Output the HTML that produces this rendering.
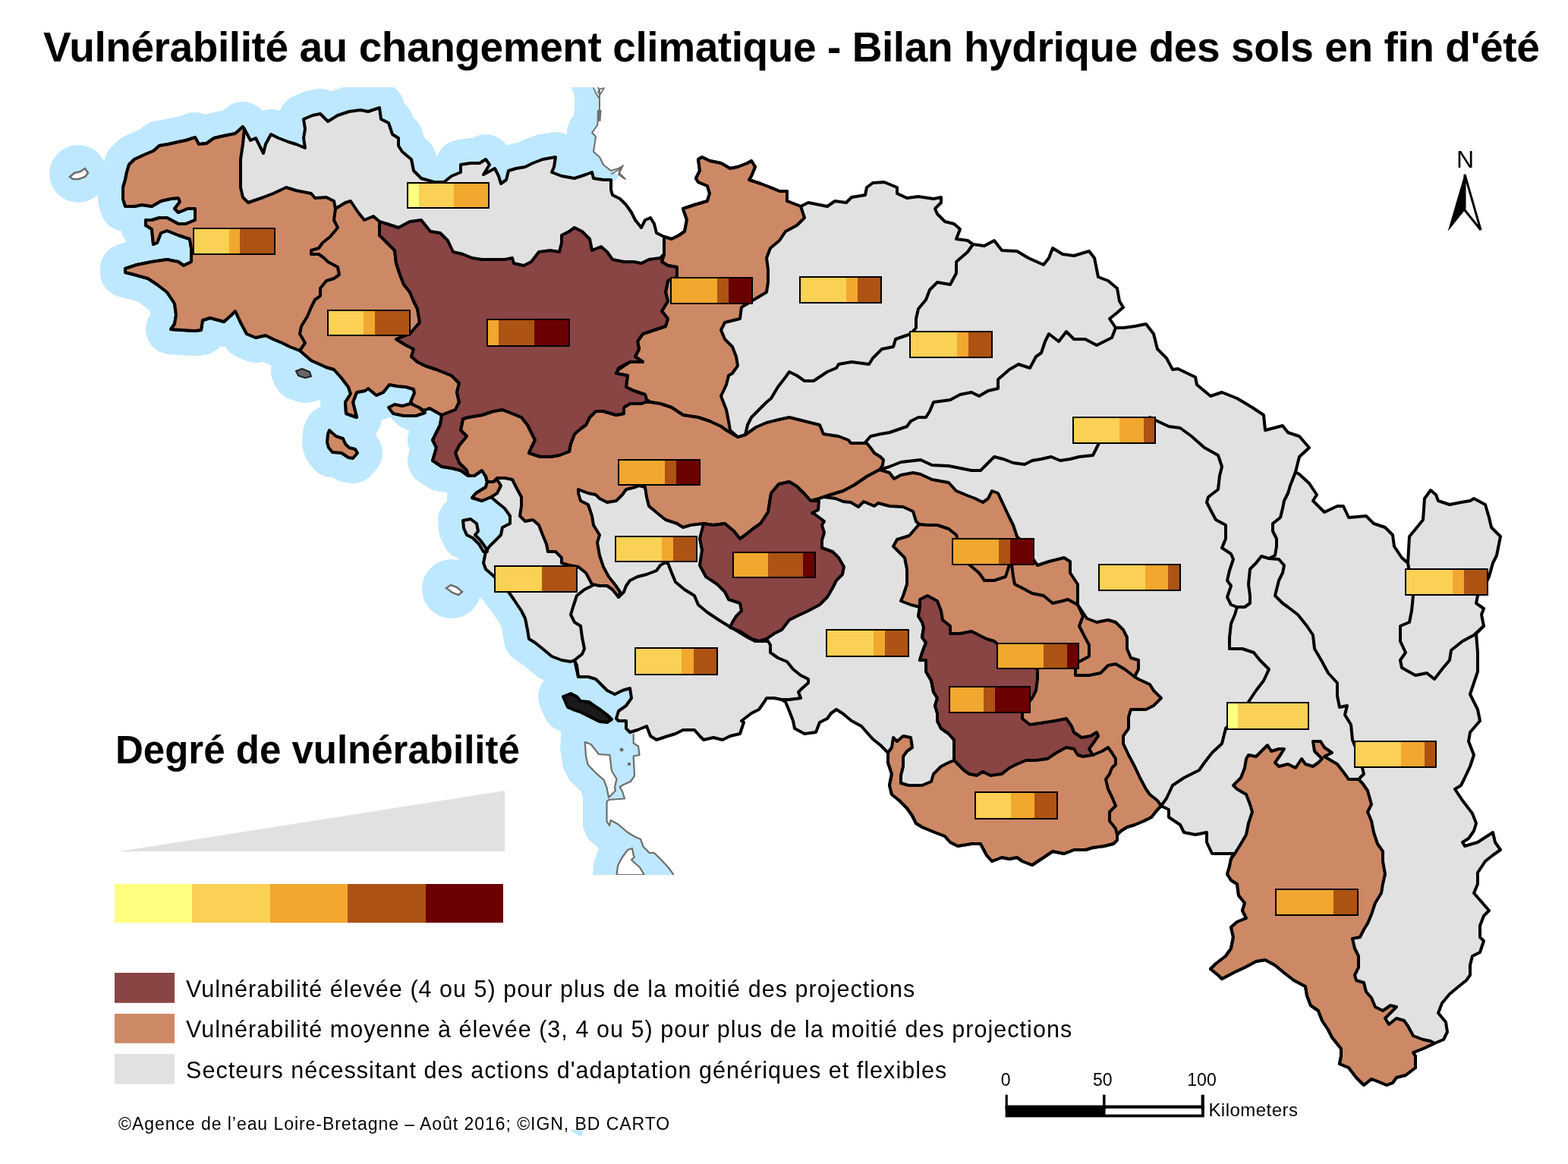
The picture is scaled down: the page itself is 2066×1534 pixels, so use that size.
<!DOCTYPE html>
<html lang="fr"><head><meta charset="utf-8"><title>Vulnérabilité au changement climatique - Bilan hydrique des sols en fin d'été</title>
<style>
html,body{margin:0;padding:0;background:#fff;}
body{width:2066px;height:1534px;position:relative;overflow:hidden;font-family:"Liberation Sans",Arial,sans-serif;color:#000;}
.t{position:absolute;white-space:nowrap;line-height:1;}
#title{left:57px;top:35.2px;font-size:55px;font-weight:bold;letter-spacing:-0.42px;}
#lt{left:152px;top:963.2px;font-size:51px;font-weight:bold;}
.li{font-size:30.5px;left:245px;letter-spacing:1.04px;}
#foot{left:156px;top:1470px;font-size:23px;letter-spacing:0.95px;}
.sc{font-size:23px;}
#north{left:1919px;top:193.8px;font-size:32px;}
</style></head><body>
<svg width="2066" height="1534" viewBox="0 0 2066 1534" style="position:absolute;left:0;top:0">
<defs><clipPath id="hc"><polygon points="0,115 782,115 790,120 790,145 787,165 780,175 785,180 782,200 790,207 795,217 805,225 815,232 812,237 805,240 805,250 807,257 817,262 825,270 832,280 837,290 845,300 870,330 900,600 850,900 852,957 840,962 834.7,968 834.7,979.5 841,983.5 842.5,995 834.7,996.5 836,1022.6 830.8,1030 821.7,1034 816.5,1037 800,1060 800,1153 0,1153"/></clipPath><clipPath id="rc"><rect x="0" y="115" width="2066" height="1038"/></clipPath></defs>
<g clip-path="url(#hc)">
<path d="M852,957 L840,962 L830,965 L825,960 L825,950 L815,950 L812,947 L815,937 L825,930 L832,920 L830,907 L820,910 L810,915 L800,910 L795,905 L785,895 L775,892 L762,892 L757,870 L752,872 L740,870 L727,865 L715,855 L705,847 L697,842 L695,830 L692,815 L687,805 L677,790 L670,780 L660,768 L648,757 L640,750 L637,742 L640,727 L645,720 L650,715 L660,705 L662,695 L672,690 L672,680 L665,670 L655,662 L647,655 L635,660 L622,656 L627,650 L640,642 L642,635 L640,628 L635,620 L625,627 L617,627 L607,620 L595,617 L582,615 L570,607 L575,590 L570,580 L580,560 L582,547 L566,538 L558,541 L552,537 L546,535 L541,530 L546,518 L545,513 L535,510 L524,509 L513,507 L505,517 L496,521 L485,512 L481,515 L470,517 L465,530 L470,550 L456,545 L455,530 L462,519 L459,510 L449,497 L440,487 L430,484 L410,475 L395,462 L382,457 L372,452 L360,447 L350,442 L337,445 L325,440 L317,425 L310,410 L305,415 L295,424 L277,419 L267,422 L265,435 L257,436 L240,435 L225,434 L230,427 L232,415 L230,400 L220,385 L207,375 L195,367 L177,362 L165,359 L165,354 L180,349 L200,345 L220,342 L235,345 L242,350 L252,345 L252,327 L250,315 L235,310 L220,304 L212,307 L207,320 L202,322 L200,302 L192,297 L192,290 L200,290 L210,287 L220,287 L235,295 L245,295 L257,290 L257,275 L247,275 L235,280 L230,275 L237,266 L235,261 L225,262 L212,265 L200,272 L187,270 L177,272 L165,272 L162,262 L162,247 L165,237 L167,227 L170,217 L177,210 L190,204 L202,199 L210,192 L222,190 L235,187 L245,185 L257,181 L262,190 L272,189 L282,182 L295,179 L310,176 L320,167 L322,170 L330,185 L337,182 L342,192 L347,202 L350,190 L357,177 L367,182 L380,187 L390,190 L402,195 L400,182 L402,170 L400,157 L412,152 L422,150 L432,160 L445,152 L460,147 L475,145 L485,147 L500,142 L502,157 L512,162 L517,177 L525,182 L525,192 L530,200 L542,210 L545,225 L555,235 L572,240 L585,240 L595,232 L607,227 L607,217 L620,215 L632,215 L640,210 L645,217 L637,230 L652,222 L657,232 L660,242 L667,237 L670,225 L680,222 L692,220 L702,215 L715,210 L732,207 L730,220 L727,227 L740,232 L757,235 L772,230 L780,227 L782,235 L795,237 L805,237" fill="none" stroke="#BEE8FF" stroke-width="66" stroke-linejoin="round" stroke-linecap="round"/>
<path d="M782,100 L790,120 L790,145 L787,165 L780,175 L785,180 L782,200 L790,207 L795,217 L805,225 L815,222 L818,220 L815,230 L822,235" fill="none" stroke="#BEE8FF" stroke-width="66" stroke-linejoin="round" stroke-linecap="round"/>
<polygon points="742,918 752,914 760,918 765,924 776,925 783,930 792,936 800,942 806,948 800,952 790,951 780,946 772,942 764,938 755,935 748,932" fill="#BEE8FF" stroke="#BEE8FF" stroke-width="66" stroke-linejoin="round"/>
<polygon points="432,572 434,567 437,570 443,575 452,578 455,585 460,590 468,592 471,597 465,604 459,603 450,597 438,596 433,590 431,583" fill="#BEE8FF" stroke="#BEE8FF" stroke-width="66" stroke-linejoin="round"/>
<polygon points="610,686 620,684 628,690 630,700 626,705 633,712 640,722 642,727 637,727 631,717 623,709 615,705 611,696" fill="#BEE8FF" stroke="#BEE8FF" stroke-width="66" stroke-linejoin="round"/>
<polygon points="390,489 398,486 408,490 410,496 402,498 393,495" fill="#BEE8FF" stroke="#BEE8FF" stroke-width="66" stroke-linejoin="round"/>
<circle cx="103" cy="229" r="38" fill="#BEE8FF"/>
<circle cx="595" cy="776" r="39" fill="#BEE8FF"/>
</g>
<polygon points="725,940 733,955 739.5,964 738,986 742,1012 750,1028 765.6,1043 768,1051 768,1090 775,1106 789,1118 782.6,1136 781,1153 887,1153 880,1142.5 870,1132 862,1124 855.6,1124 847.7,1116 844,1106 837,1103 827,1097 814,1086 804.7,1081 803,1088 799.5,1082.5 799.5,1056.5 802,1054 823,1052.5 820,1043 816.5,1037 821.7,1034 830.8,1030 836,1022.6 834.7,996.5 842.5,995 841,983.5 834.7,979.5 834.7,968 830,955 780,940" fill="#BEE8FF" stroke="none" stroke-width="0" stroke-linejoin="round" />
<g clip-path="url(#rc)">
<polyline points="782,100 790,120 790,145 787,165 780,175 785,180 782,200 790,207 795,217 805,225 815,222 818,220 815,230 822,235" fill="none" stroke="#6E6E6E" stroke-width="2" stroke-linejoin="round" stroke-linecap="round" />
<polyline points="782,116 785,123 789,129 791,124 795,118 796,116 791,117 788,122" fill="none" stroke="#6E6E6E" stroke-width="1.6" stroke-linejoin="round" stroke-linecap="round" />
<polygon points="787,145 792.6,145 791.5,160 786.5,159" fill="#6E6E6E"/>
<polyline points="806,229 815,224 821,218 816,228 824,236" fill="none" stroke="#6E6E6E" stroke-width="1.8" stroke-linejoin="round" stroke-linecap="round" />
<polyline points="834.7,968 834.7,979.5 841,983.5 842.5,995 834.7,996.5 836,1022.6 830.8,1030 821.7,1034 816.5,1037 820,1043 823,1052.5 802,1054 799.5,1056.5 799.5,1082.5 803,1088 804.7,1081 814,1086 827,1097 837,1103 844,1106 847.7,1116 855.6,1124 862,1124 870,1132 880,1142.5 887,1152" fill="none" stroke="#6E6E6E" stroke-width="2.2" stroke-linejoin="round" stroke-linecap="round" />
<polygon points="812.5,1153 814,1141 819,1131 827,1120 833,1118 834.7,1127 836,1129.5 832,1133 836,1137 842.5,1142.5 849,1153" fill="#fff" stroke="#6E6E6E" stroke-width="2.2" stroke-linejoin="round" />
<polygon points="770.8,978 778.7,981 789,994 803.4,995 804.7,1005.6 806,1016 812.5,1026.5 810,1038 811,1042 802,1051 799.5,1038 795.6,1027.8 785,1018.6 774.7,1008 772,996.5" fill="#fff" stroke="#6E6E6E" stroke-width="2.2" stroke-linejoin="round" />
<circle cx="819" cy="988" r="2.5" fill="#6E6E6E"/><circle cx="829" cy="1007" r="2.2" fill="#6E6E6E"/>
</g>
<polygon points="92,233 98,228 106,226 112,222 116,228 112,233 104,236 96,236" fill="#fff" stroke="#6E6E6E" stroke-width="2.5"/>
<polygon points="588,775 594,771 602,774 609,780 604,784 596,781" fill="#fff" stroke="#6E6E6E" stroke-width="2.5"/>
<polygon points="322,170 330,185 337,182 342,192 347,202 350,190 357,177 367,182 380,187 390,190 402,195 400,182 402,170 400,157 412,152 422,150 432,160 445,152 460,147 475,145 485,147 500,142 502,157 512,162 517,177 525,182 525,192 530,200 542,210 545,225 555,235 572,240 585,240 595,232 607,227 607,217 620,215 632,215 640,210 645,217 637,230 652,222 657,232 660,242 667,237 670,225 680,222 692,220 702,215 715,210 732,207 730,220 727,227 740,232 757,235 772,230 780,227 782,235 795,237 805,237 805,250 807,257 817,262 825,270 832,280 837,290 845,300 850,290 857,287 862,295 865,307 875,312 885,315 895,310 902,305 905,290 900,275 915,270 932,265 935,255 932,245 920,240 917,235 922,225 920,210 925,207 935,212 950,215 962,222 972,220 985,215 990,212 995,220 990,232 987,237 1002,242 1015,247 1027,252 1037,252 1037,265 1050,270 1055,272 1065,267 1090,272 1100,265 1115,267 1122,260 1140,257 1142,247 1150,241 1165,240 1182,247 1182,255 1195,261 1210,259 1230,262 1240,260 1240,267 1232,275 1235,282 1245,292 1257,295 1265,302 1260,315 1275,317 1282,322 1297,324 1310,317 1320,330 1340,331 1355,340 1375,349 1382,340 1387,327 1400,335 1415,337 1435,331 1442,340 1447,365 1460,370 1472,380 1475,397 1480,405 1472,412 1462,420 1470,432 1480,432 1495,430 1510,427 1520,440 1525,460 1537,472 1545,487 1552,486 1575,497 1577,507 1595,522 1610,517 1630,525 1650,537 1665,547 1667,567 1690,561 1697,570 1712,575 1725,590 1712,602 1707,622 1712,625 1725,637 1735,652 1730,660 1745,675 1762,667 1770,667 1777,682 1800,680 1810,690 1825,695 1835,705 1837,720 1847,735 1855,742 1857,707 1867,695 1875,685 1877,657 1885,646 1892,652 1895,660 1910,665 1925,662 1937,660 1942,657 1957,665 1962,682 1965,695 1977,707 1972,732 1967,742 1962,760 1955,775 1947,785 1945,795 1955,802 1952,810 1955,825 1945,835 1947,860 1947,885 1942,900 1937,915 1947,935 1950,950 1937,965 1935,977 1942,995 1937,1010 1930,1025 1925,1035 1917,1040 1927,1055 1940,1072 1945,1085 1942,1095 1935,1105 1927,1110 1930,1115 1947,1110 1967,1097 1970,1110 1977,1120 1967,1127 1957,1135 1947,1150 1947,1165 1942,1177 1962,1200 1955,1207 1950,1220 1950,1235 1955,1240 1950,1255 1940,1260 1937,1272 1937,1285 1932,1292 1922,1300 1910,1310 1900,1322 1895,1335 1905,1347 1907,1360 1902,1370 1890,1375 1875,1382 1862,1387 1865,1392 1865,1407 1852,1417 1840,1420 1835,1427 1827,1430 1815,1425 1807,1422 1797,1430 1787,1420 1777,1407 1765,1402 1767,1392 1767,1382 1755,1367 1750,1357 1742,1345 1737,1332 1727,1325 1722,1312 1720,1300 1705,1292 1692,1282 1680,1272 1667,1265 1655,1267 1640,1275 1625,1282 1610,1290 1605,1285 1595,1277 1602,1270 1615,1260 1622,1250 1625,1235 1622,1222 1630,1215 1642,1210 1637,1200 1640,1190 1632,1180 1630,1165 1622,1160 1617,1152 1620,1142 1622,1132 1625,1125 1610,1125 1597,1125 1590,1110 1590,1097 1575,1100 1560,1097 1555,1087 1540,1077 1540,1067 1530,1062 1525,1067 1517,1077 1507,1082 1495,1087 1485,1090 1477,1095 1472,1100 1472,1107 1467,1112 1455,1115 1440,1117 1430,1120 1415,1120 1402,1125 1387,1122 1375,1130 1360,1140 1347,1135 1340,1130 1330,1132 1320,1130 1307,1135 1300,1127 1292,1112 1280,1112 1262,1115 1252,1110 1245,1102 1232,1097 1215,1090 1207,1085 1202,1075 1195,1065 1185,1055 1175,1047 1172,1035 1175,1020 1170,1005 1170,992 1160,982 1150,974 1142,965 1135,957 1122,950 1110,940 1102,935 1095,940 1090,947 1080,952 1075,965 1060,967 1047,960 1045,950 1040,937 1035,925 1030,922 1020,920 1010,920 1007,925 1000,935 990,940 977,950 980,952 975,967 962,970 952,975 940,972 927,975 922,970 915,962 900,962 890,967 880,970 865,975 857,970 852,957 840,962 830,965 825,960 825,950 815,950 812,947 815,937 825,930 832,920 830,907 820,910 810,915 800,910 795,905 785,895 775,892 762,892 757,870 752,872 740,870 727,865 715,855 705,847 697,842 695,830 692,815 687,805 677,790 670,780 660,768 648,757 640,750 637,742 640,727 645,720 650,715 660,705 662,695 672,690 672,680 665,670 655,662 647,655 635,660 622,656 627,650 640,642 642,635 640,628 635,620 625,627 617,627 607,620 595,617 582,615 570,607 575,590 570,580 580,560 582,547 566,538 558,541 552,537 546,535 541,530 546,518 545,513 535,510 524,509 513,507 505,517 496,521 485,512 481,515 470,517 465,530 470,550 456,545 455,530 462,519 459,510 449,497 440,487 430,484 410,475 395,462 382,457 372,452 360,447 350,442 337,445 325,440 317,425 310,410 305,415 295,424 277,419 267,422 265,435 257,436 240,435 225,434 230,427 232,415 230,400 220,385 207,375 195,367 177,362 165,359 165,354 180,349 200,345 220,342 235,345 242,350 252,345 252,327 250,315 235,310 220,304 212,307 207,320 202,322 200,302 192,297 192,290 200,290 210,287 220,287 235,295 245,295 257,290 257,275 247,275 235,280 230,275 237,266 235,261 225,262 212,265 200,272 187,270 177,272 165,272 162,262 162,247 165,237 167,227 170,217 177,210 190,204 202,199 210,192 222,190 235,187 245,185 257,181 262,190 272,189 282,182 295,179 310,176 320,167" fill="#E1E1E1" stroke="#000" stroke-width="4" stroke-linejoin="round" />
<polygon points="322,170 320,190 317,210 317,227 317,247 320,260 327,267 347,260 360,255 377,247 390,251 410,255 415,261 430,260 440,265 442,275 455,267 462,265 472,280 480,290 492,285 500,292 500,310 510,320 520,330 522,347 527,362 532,375 540,385 545,397 550,407 553,425 540,440 522,447 535,455 545,460 542,470 550,477 560,482 575,487 595,495 605,505 602,517 605,530 600,540 587,545 582,547 566,538 558,541 552,537 546,535 541,530 546,518 545,513 535,510 524,509 513,507 505,517 496,521 485,512 481,515 470,517 465,530 470,550 456,545 455,530 462,519 459,510 449,497 440,487 430,484 410,475 395,462 382,457 372,452 360,447 350,442 337,445 325,440 317,425 310,410 305,415 295,424 277,419 267,422 265,435 257,436 240,435 225,434 230,427 232,415 230,400 220,385 207,375 195,367 177,362 165,359 165,354 180,349 200,345 220,342 235,345 242,350 252,345 252,327 250,315 235,310 220,304 212,307 207,320 202,322 200,302 192,297 192,290 200,290 210,287 220,287 235,295 245,295 257,290 257,275 247,275 235,280 230,275 237,266 235,261 225,262 212,265 200,272 187,270 177,272 165,272 162,262 162,247 165,237 167,227 170,217 177,210 190,204 202,199 210,192 222,190 235,187 245,185 257,181 262,190 272,189 282,182 295,179 310,176 320,167" fill="#CD8966" stroke="#000" stroke-width="4" stroke-linejoin="round" />
<polygon points="875,312 885,315 895,310 902,305 905,290 900,275 915,270 932,265 935,255 932,245 920,240 917,235 922,225 920,210 925,207 935,212 950,215 962,222 972,220 985,215 990,212 995,220 990,232 987,237 1002,242 1015,247 1027,252 1037,252 1037,265 1050,270 1055,272 1060,287 1050,297 1035,305 1027,317 1015,327 1010,340 1012,355 1012,372 1010,385 990,397 977,405 975,420 955,425 950,435 955,447 965,457 970,470 972,482 965,492 960,495 957,507 950,522 957,540 960,555 962,567 972,576 967,572 957,567 950,562 935,555 920,550 900,547 885,537 870,532 857,530 852,527 850,520 835,515 825,510 827,495 812,492 815,487 830,477 847,477 837,470 842,460 840,450 847,440 862,435 877,430 880,420 872,410 880,397 877,385 880,370 892,365 892,352 880,350 872,345 875,335 875,325" fill="#CD8966" stroke="#000" stroke-width="4" stroke-linejoin="round" />
<polygon points="857,530 870,532 885,537 900,547 920,550 935,555 950,562 957,567 972,576 982,573 996,563 1010,557 1026,553 1040,550 1060,555 1080,560 1085,572 1105,575 1118,580 1121,584 1142,584 1147,590 1152,597 1160,602 1164,606 1163,613 1159,619 1142,628 1126,639 1111,647 1091,653 1079,657 1068,660 1060,651 1050,641 1040,635 1026,638 1016,650 1012,675 1002,690 992,697 982,705 975,710 967,700 955,690 940,692 927,690 910,692 900,695 892,690 877,685 867,677 855,667 852,655 850,642 842,640 837,642 825,645 820,652 812,660 800,662 790,657 785,652 775,650 762,645 762,650 765,660 775,665 780,680 782,692 790,705 787,715 790,732 795,747 802,760 810,770 817,780 815,787 807,777 800,772 790,772 780,770 772,755 762,747 750,745 740,742 740,735 732,727 722,727 720,717 715,705 710,692 702,685 692,687 685,680 687,667 687,655 680,642 675,632 665,630 655,630 650,635 642,635 640,628 635,620 625,627 617,627 615,620 605,610 600,597 605,587 615,575 607,567 610,552 617,550 635,547 650,542 662,540 675,545 687,550 695,560 700,570 705,580 700,590 697,597 712,602 725,602 737,600 750,595 752,585 757,572 765,565 772,560 777,550 785,542 795,542 812,547 822,545 822,537 830,532 845,532 850,530" fill="#CD8966" stroke="#000" stroke-width="4" stroke-linejoin="round" />
<polygon points="640,628 642,635 640,642 627,650 622,656 635,660 647,655 655,650 660,640 655,632 650,635 642,635" fill="#CD8966" stroke="#000" stroke-width="4" stroke-linejoin="round" />
<polygon points="512,537 520,533 530,535 541,532 552,537 560,544 548,548 532,548 518,545" fill="#CD8966" stroke="#000" stroke-width="4" stroke-linejoin="round" />
<polygon points="432,572 434,567 437,570 443,575 452,578 455,585 460,590 468,592 471,597 465,604 459,603 450,597 438,596 433,590 431,583" fill="#CD8966" stroke="#000" stroke-width="4" stroke-linejoin="round" />
<polygon points="610,686 620,684 628,690 630,700 626,705 633,712 640,722 642,727 637,727 631,717 623,709 615,705 611,696" fill="#ddd" stroke="#000" stroke-width="4" stroke-linejoin="round" />
<polygon points="390,489 398,486 408,490 410,496 402,498 393,495" fill="#666" stroke="#222" stroke-width="2" stroke-linejoin="round" />
<polygon points="742,918 752,914 760,918 765,924 776,925 783,930 792,936 800,942 806,948 800,952 790,951 780,946 772,942 764,938 755,935 748,932" fill="#1a1a1a" stroke="#000" stroke-width="4" stroke-linejoin="round" />
<polygon points="1159,619 1172,623 1178,631 1187,626 1203,623 1213,625 1228,632 1250,636 1260,647 1272,652 1285,657 1295,662 1302,657 1307,647 1315,650 1322,665 1330,682 1335,692 1340,707 1345,712 1362,738 1367,745 1382,740 1402,735 1410,740 1410,755 1420,770 1420,785 1420,797 1432,815 1445,820 1460,817 1470,820 1480,830 1485,840 1485,855 1490,867 1500,870 1500,882 1495,892 1500,895 1515,902 1520,910 1530,920 1520,930 1510,935 1490,935 1487,945 1487,960 1480,970 1480,980 1487,995 1495,1010 1502,1025 1510,1040 1515,1047 1525,1055 1530,1062 1525,1067 1517,1077 1507,1082 1495,1087 1485,1090 1477,1095 1472,1100 1472,1107 1467,1112 1455,1115 1440,1117 1430,1120 1415,1120 1402,1125 1387,1122 1375,1130 1360,1140 1347,1135 1340,1130 1330,1132 1320,1130 1307,1135 1300,1127 1292,1112 1280,1112 1262,1115 1252,1110 1245,1102 1232,1097 1215,1090 1207,1085 1202,1075 1195,1065 1185,1055 1175,1047 1172,1035 1175,1020 1170,1005 1170,992 1175,985 1177,972 1182,977 1190,970 1200,972 1202,985 1195,990 1190,997 1190,1010 1187,1022 1187,1032 1197,1035 1215,1035 1227,1030 1230,1020 1235,1015 1240,1010 1250,1005 1257,1002 1257,987 1257,975 1250,967 1240,960 1235,950 1235,940 1232,930 1235,920 1230,912 1227,897 1220,885 1220,870 1212,870 1215,860 1220,847 1215,840 1217,827 1215,820 1210,812 1212,800 1200,797 1187,792 1190,785 1195,770 1195,750 1192,735 1182,725 1177,720 1182,711 1198,706 1211,691 1207,687 1203,674 1190,668 1172,667 1157,663 1152,667 1138,661 1131,668 1121,662 1111,661 1101,657 1086,655 1091,653 1111,647 1126,639 1142,628" fill="#CD8966" stroke="#000" stroke-width="4" stroke-linejoin="round" />
<polygon points="1625,1035 1635,1025 1640,1012 1642,1000 1645,995 1655,997 1662,990 1670,982 1675,990 1685,987 1692,987 1687,995 1680,1005 1685,1010 1697,1007 1707,1012 1715,1000 1720,1007 1730,1010 1737,1005 1742,1000 1732,990 1730,977 1740,977 1745,985 1755,992 1745,997 1750,1000 1762,1007 1772,1020 1777,1027 1790,1027 1795,1032 1802,1042 1807,1060 1802,1070 1807,1082 1810,1097 1815,1112 1822,1122 1822,1135 1825,1152 1822,1165 1820,1177 1812,1190 1807,1205 1802,1217 1797,1225 1792,1235 1782,1237 1785,1250 1790,1260 1790,1275 1785,1285 1787,1292 1797,1295 1800,1307 1807,1315 1812,1327 1822,1332 1832,1325 1840,1327 1832,1335 1825,1342 1830,1350 1840,1342 1850,1345 1855,1352 1862,1365 1875,1370 1885,1372 1890,1375 1875,1382 1862,1387 1865,1392 1865,1407 1852,1417 1840,1420 1835,1427 1827,1430 1815,1425 1807,1422 1797,1430 1787,1420 1777,1407 1765,1402 1767,1392 1767,1382 1755,1367 1750,1357 1742,1345 1737,1332 1727,1325 1722,1312 1720,1300 1705,1292 1692,1282 1680,1272 1667,1265 1655,1267 1640,1275 1625,1282 1610,1290 1605,1285 1595,1277 1602,1270 1615,1260 1622,1250 1625,1235 1622,1222 1630,1215 1642,1210 1637,1200 1640,1190 1632,1180 1630,1165 1622,1160 1617,1152 1620,1142 1622,1132 1627,1125 1635,1112 1642,1100 1645,1085 1650,1070 1647,1060 1642,1047 1630,1040" fill="#CD8966" stroke="#000" stroke-width="4" stroke-linejoin="round" />
<polygon points="500,292 510,295 525,300 540,292 555,290 567,305 580,307 590,317 597,332 610,335 622,340 635,342 647,342 665,342 675,340 677,347 690,350 700,345 710,332 725,330 737,332 740,320 740,310 750,305 757,300 767,305 777,315 780,330 792,325 800,332 807,342 822,345 835,345 845,347 855,342 870,340 875,335 872,345 880,350 892,352 892,365 880,370 877,385 880,397 872,410 880,420 877,430 862,435 847,440 840,450 842,460 837,470 847,477 830,477 815,485 812,492 827,495 825,510 835,515 850,520 852,527 857,530 850,530 845,532 830,532 822,537 822,545 812,547 795,542 785,542 777,550 772,560 765,565 757,572 752,585 750,595 737,600 725,602 712,602 697,597 700,590 705,580 700,570 695,560 687,550 675,545 662,540 650,542 635,547 617,550 610,552 607,567 615,575 605,587 600,597 605,610 615,620 617,627 607,620 595,617 582,615 570,607 575,590 570,580 580,560 582,547 587,545 600,540 605,530 602,517 605,505 595,495 575,487 560,482 550,477 542,470 545,460 535,455 522,447 540,440 553,425 550,407 545,397 540,385 532,375 527,362 522,347 520,330 510,320 500,310" fill="#894444" stroke="#000" stroke-width="4" stroke-linejoin="round" />
<polygon points="927,690 940,692 955,690 967,700 975,710 982,705 992,697 1002,690 1012,675 1016,650 1026,638 1040,635 1050,641 1060,651 1068,660 1079,660 1078,672 1070,676 1074,678 1086,687 1083,692 1086,702 1083,712 1083,722 1097,727 1105,735 1112,747 1110,757 1102,765 1097,775 1090,787 1080,797 1065,805 1050,812 1040,817 1030,830 1020,835 1010,842 1000,845 990,842 975,832 962,827 965,820 970,812 977,805 975,795 960,790 955,780 945,770 930,760 922,745 925,725 922,710 925,698" fill="#894444" stroke="#000" stroke-width="4" stroke-linejoin="round" />
<polygon points="1212,790 1222,785 1235,792 1240,805 1242,817 1252,825 1252,835 1265,835 1280,832 1290,837 1300,842 1310,845 1318,852 1340,865 1367,882 1367,895 1365,910 1360,920 1352,930 1347,940 1347,947 1357,955 1377,952 1390,950 1405,947 1412,957 1415,965 1425,972 1437,970 1445,965 1447,970 1440,980 1435,987 1440,995 1427,997 1420,995 1415,987 1405,985 1392,992 1380,1000 1365,1002 1352,1002 1340,1007 1330,1012 1320,1020 1305,1022 1295,1017 1287,1022 1277,1020 1270,1015 1262,1007 1257,1002 1257,987 1257,975 1250,967 1240,960 1235,950 1235,940 1232,930 1235,920 1230,912 1227,897 1220,885 1220,870 1212,870 1215,860 1220,847 1215,840 1217,827 1215,820 1210,812 1212,800" fill="#894444" stroke="#000" stroke-width="4" stroke-linejoin="round" />
<polyline points="1282,322 1275,332 1260,345 1260,360 1252,375 1235,372 1225,382 1220,395 1210,407 1207,420 1207,432 1200,440 1180,447 1177,457 1162,460 1150,472 1145,480 1122,477 1105,480 1102,485 1090,490 1072,502 1060,502 1050,495 1040,490 1035,497 1025,510 1016,525 1010,530 1000,540 990,550 985,560 982,573" fill="none" stroke="#000" stroke-width="4" stroke-linejoin="round" stroke-linecap="round" />
<polyline points="1470,432 1465,445 1445,455 1430,447 1415,447 1405,437 1395,450 1382,440 1377,450 1372,465 1365,470 1357,485 1342,480 1330,487 1315,500 1315,512 1302,515 1290,522 1280,517 1265,520 1252,527 1230,530 1225,542 1220,550 1210,550 1200,555 1195,562 1172,570 1160,572 1147,575 1140,583" fill="none" stroke="#000" stroke-width="4" stroke-linejoin="round" stroke-linecap="round" />
<polyline points="1159,619 1172,615 1187,609 1213,606 1228,613 1250,614 1265,617 1280,620 1292,620 1302,610 1310,602 1322,605 1335,610 1350,612 1360,607 1372,605 1385,602 1397,607 1410,605 1422,602 1440,600 1445,590 1448,584" fill="none" stroke="#000" stroke-width="4" stroke-linejoin="round" stroke-linecap="round" />
<polyline points="1515,550 1525,555 1540,562 1555,564 1570,575 1587,590 1605,600 1610,615 1607,627 1605,645 1592,655 1590,662 1595,672 1602,685 1615,692 1615,710 1610,722 1622,730 1625,737 1620,752 1617,765 1622,772 1617,787 1622,797 1630,800" fill="none" stroke="#000" stroke-width="4" stroke-linejoin="round" stroke-linecap="round" />
<polyline points="1707,622 1700,640 1697,650 1692,660 1690,670 1687,682 1677,690 1677,700 1682,710 1682,720 1680,732 1672,736 1662,733 1655,742 1647,750 1645,770 1647,785 1647,795 1640,800 1630,800" fill="none" stroke="#000" stroke-width="4" stroke-linejoin="round" stroke-linecap="round" />
<polyline points="1630,800 1627,810 1622,822 1620,840 1620,855 1637,855 1652,860 1660,870 1672,882 1665,897 1655,910 1645,925 1640,935 1620,955 1615,960 1610,980 1597,992 1587,1005 1580,1015 1560,1025 1545,1035 1537,1052 1530,1062" fill="none" stroke="#000" stroke-width="4" stroke-linejoin="round" stroke-linecap="round" />
<polyline points="1672,736 1685,737 1692,745 1690,755 1685,765 1682,777 1680,785 1690,795 1697,800 1710,810 1722,825 1730,837 1732,855 1742,872 1750,887 1762,900 1762,917 1765,932 1775,930 1772,942 1780,955 1782,975 1788,990 1795,1012 1797,1020 1790,1027" fill="none" stroke="#000" stroke-width="4" stroke-linejoin="round" stroke-linecap="round" />
<polyline points="1855,742 1858,760 1862,785 1860,805 1857,820 1845,825 1845,845 1852,860 1845,870 1847,880 1865,890 1880,887 1890,895 1900,882 1910,870 1912,857 1927,845 1942,837 1955,825" fill="none" stroke="#000" stroke-width="4" stroke-linejoin="round" stroke-linecap="round" />
<polyline points="780,772 770,777 760,785 755,800 752,810 757,820 765,825 767,840 770,855 767,862 757,870 760,877 762,892" fill="none" stroke="#000" stroke-width="4" stroke-linejoin="round" stroke-linecap="round" />
<polyline points="815,787 822,780 825,772 830,765 840,760 852,757 865,752 870,745 875,742 880,742 885,755 890,767 902,777 915,785 920,797 932,807 947,817 960,825 972,832 985,840 995,845 1005,845" fill="none" stroke="#000" stroke-width="4" stroke-linejoin="round" stroke-linecap="round" />
<polyline points="1005,845 1012,845 1015,850 1015,860 1025,867 1037,872 1045,882 1055,890 1065,895 1065,900 1057,907 1052,912 1055,920 1040,922 1032,922" fill="none" stroke="#000" stroke-width="4" stroke-linejoin="round" stroke-linecap="round" />
<polyline points="1211,691 1222,692 1235,692 1250,697 1260,705 1262,712" fill="none" stroke="#000" stroke-width="4" stroke-linejoin="round" stroke-linecap="round" />
<polyline points="1277,744 1290,755 1297,765 1310,765 1325,760 1330,744" fill="none" stroke="#000" stroke-width="4" stroke-linejoin="round" stroke-linecap="round" />
<polyline points="1333,744 1335,760 1337,770 1347,775 1360,782 1375,785 1387,795 1400,792 1407,790 1420,797" fill="none" stroke="#000" stroke-width="4" stroke-linejoin="round" stroke-linecap="round" />
<polyline points="1420,797 1427,812 1422,825 1427,835 1435,850 1435,865 1422,872" fill="none" stroke="#000" stroke-width="4" stroke-linejoin="round" stroke-linecap="round" />
<polyline points="1417,882 1417,890 1435,890 1450,887 1460,877 1470,875 1482,882 1495,892" fill="none" stroke="#000" stroke-width="4" stroke-linejoin="round" stroke-linecap="round" />
<polyline points="1440,995 1452,990 1460,985 1465,992 1470,1000 1470,1007 1465,1012 1462,1020 1457,1027 1460,1040 1465,1050 1470,1062 1462,1070 1462,1082 1470,1092 1472,1100" fill="none" stroke="#000" stroke-width="4" stroke-linejoin="round" stroke-linecap="round" />
<polyline points="442,275 440,290 445,300 435,312 425,320 420,327 410,330 410,335 420,335 427,340 432,345 445,352 447,362 440,367 430,370 422,380 422,390 415,395 410,405 405,417 397,430 395,440 402,452 395,462" fill="none" stroke="#000" stroke-width="4" stroke-linejoin="round" stroke-linecap="round" />
<rect x="536" y="240" width="16" height="35" fill="#FFFF80"/>
<rect x="552" y="240" width="46" height="35" fill="#FAD155"/>
<rect x="598" y="240" width="47" height="35" fill="#F2A72E"/>
<rect x="537" y="241" width="107" height="33" fill="none" stroke="#000" stroke-width="2"/>
<rect x="254" y="300" width="48" height="36" fill="#FAD155"/>
<rect x="302" y="300" width="14" height="36" fill="#F2A72E"/>
<rect x="316" y="300" width="47" height="36" fill="#AD5313"/>
<rect x="255" y="301" width="107" height="34" fill="none" stroke="#000" stroke-width="2"/>
<rect x="431" y="408" width="48" height="35" fill="#FAD155"/>
<rect x="479" y="408" width="15" height="35" fill="#F2A72E"/>
<rect x="494" y="408" width="47" height="35" fill="#AD5313"/>
<rect x="432" y="409" width="108" height="33" fill="none" stroke="#000" stroke-width="2"/>
<rect x="641" y="420" width="16" height="37" fill="#F2A72E"/>
<rect x="657" y="420" width="47" height="37" fill="#AD5313"/>
<rect x="704" y="420" width="47" height="37" fill="#6B0000"/>
<rect x="642" y="421" width="108" height="35" fill="none" stroke="#000" stroke-width="2"/>
<rect x="883" y="365" width="62" height="36" fill="#F2A72E"/>
<rect x="945" y="365" width="15" height="36" fill="#AD5313"/>
<rect x="960" y="365" width="32" height="36" fill="#6B0000"/>
<rect x="884" y="366" width="107" height="34" fill="none" stroke="#000" stroke-width="2"/>
<rect x="1053" y="364" width="62" height="36" fill="#FAD155"/>
<rect x="1115" y="364" width="15" height="36" fill="#F2A72E"/>
<rect x="1130" y="364" width="32" height="36" fill="#AD5313"/>
<rect x="1054" y="365" width="107" height="34" fill="none" stroke="#000" stroke-width="2"/>
<rect x="1198" y="436" width="63" height="36" fill="#FAD155"/>
<rect x="1261" y="436" width="15" height="36" fill="#F2A72E"/>
<rect x="1276" y="436" width="32" height="36" fill="#AD5313"/>
<rect x="1199" y="437" width="108" height="34" fill="none" stroke="#000" stroke-width="2"/>
<rect x="1413" y="549" width="62" height="36" fill="#FAD155"/>
<rect x="1475" y="549" width="32" height="36" fill="#F2A72E"/>
<rect x="1507" y="549" width="16" height="36" fill="#AD5313"/>
<rect x="1414" y="550" width="108" height="34" fill="none" stroke="#000" stroke-width="2"/>
<rect x="814" y="605" width="62" height="35" fill="#F2A72E"/>
<rect x="876" y="605" width="15" height="35" fill="#AD5313"/>
<rect x="891" y="605" width="32" height="35" fill="#6B0000"/>
<rect x="815" y="606" width="107" height="33" fill="none" stroke="#000" stroke-width="2"/>
<rect x="651" y="745" width="63" height="36" fill="#FAD155"/>
<rect x="714" y="745" width="47" height="36" fill="#AD5313"/>
<rect x="652" y="746" width="108" height="34" fill="none" stroke="#000" stroke-width="2"/>
<rect x="810" y="706" width="62" height="35" fill="#FAD155"/>
<rect x="872" y="706" width="15" height="35" fill="#F2A72E"/>
<rect x="887" y="706" width="32" height="35" fill="#AD5313"/>
<rect x="811" y="707" width="107" height="33" fill="none" stroke="#000" stroke-width="2"/>
<rect x="965" y="727" width="47" height="35" fill="#F2A72E"/>
<rect x="1012" y="727" width="46" height="35" fill="#AD5313"/>
<rect x="1058" y="727" width="17" height="35" fill="#6B0000"/>
<rect x="966" y="728" width="108" height="33" fill="none" stroke="#000" stroke-width="2"/>
<rect x="836" y="853" width="62" height="37" fill="#FAD155"/>
<rect x="898" y="853" width="16" height="37" fill="#F2A72E"/>
<rect x="914" y="853" width="32" height="37" fill="#AD5313"/>
<rect x="837" y="854" width="108" height="35" fill="none" stroke="#000" stroke-width="2"/>
<rect x="1088" y="829" width="63" height="37" fill="#FAD155"/>
<rect x="1151" y="829" width="15" height="37" fill="#F2A72E"/>
<rect x="1166" y="829" width="32" height="37" fill="#AD5313"/>
<rect x="1089" y="830" width="108" height="35" fill="none" stroke="#000" stroke-width="2"/>
<rect x="1254" y="709" width="62" height="36" fill="#F2A72E"/>
<rect x="1316" y="709" width="15" height="36" fill="#AD5313"/>
<rect x="1331" y="709" width="32" height="36" fill="#6B0000"/>
<rect x="1255" y="710" width="107" height="34" fill="none" stroke="#000" stroke-width="2"/>
<rect x="1447" y="743" width="62" height="36" fill="#FAD155"/>
<rect x="1509" y="743" width="30" height="36" fill="#F2A72E"/>
<rect x="1539" y="743" width="17" height="36" fill="#AD5313"/>
<rect x="1448" y="744" width="107" height="34" fill="none" stroke="#000" stroke-width="2"/>
<rect x="1313" y="847" width="62" height="35" fill="#F2A72E"/>
<rect x="1375" y="847" width="31" height="35" fill="#AD5313"/>
<rect x="1406" y="847" width="16" height="35" fill="#6B0000"/>
<rect x="1314" y="848" width="107" height="33" fill="none" stroke="#000" stroke-width="2"/>
<rect x="1250" y="904" width="46" height="36" fill="#F2A72E"/>
<rect x="1296" y="904" width="15" height="36" fill="#AD5313"/>
<rect x="1311" y="904" width="47" height="36" fill="#6B0000"/>
<rect x="1251" y="905" width="106" height="34" fill="none" stroke="#000" stroke-width="2"/>
<rect x="1284" y="1043" width="48" height="37" fill="#FAD155"/>
<rect x="1332" y="1043" width="31" height="37" fill="#F2A72E"/>
<rect x="1363" y="1043" width="31" height="37" fill="#AD5313"/>
<rect x="1285" y="1044" width="108" height="35" fill="none" stroke="#000" stroke-width="2"/>
<rect x="1616" y="925" width="15" height="37" fill="#FFFF80"/>
<rect x="1631" y="925" width="94" height="37" fill="#FAD155"/>
<rect x="1617" y="926" width="107" height="35" fill="none" stroke="#000" stroke-width="2"/>
<rect x="1784" y="976" width="62" height="36" fill="#FAD155"/>
<rect x="1846" y="976" width="31" height="36" fill="#F2A72E"/>
<rect x="1877" y="976" width="16" height="36" fill="#AD5313"/>
<rect x="1785" y="977" width="107" height="34" fill="none" stroke="#000" stroke-width="2"/>
<rect x="1851" y="749" width="63" height="36" fill="#FAD155"/>
<rect x="1914" y="749" width="15" height="36" fill="#F2A72E"/>
<rect x="1929" y="749" width="32" height="36" fill="#AD5313"/>
<rect x="1852" y="750" width="108" height="34" fill="none" stroke="#000" stroke-width="2"/>
<rect x="1680" y="1171" width="77" height="36" fill="#F2A72E"/>
<rect x="1757" y="1171" width="33" height="36" fill="#AD5313"/>
<rect x="1681" y="1172" width="108" height="34" fill="none" stroke="#000" stroke-width="2"/>
<polygon points="751,1489 768,1489.5 766.5,1497 763,1497" fill="#BEE8FF"/>
<polygon points="1930,230 1951,303 1930,277" fill="#fff" stroke="#000" stroke-width="3" stroke-linejoin="miter"/>
<polygon points="1930,228.5 1907.6,305 1930,277" fill="#000"/>
<polygon points="157,1122 665,1042 665,1122" fill="#E1E1E1"/>
<rect x="151" y="1165" width="102" height="51" fill="#FFFF80"/>
<rect x="253" y="1165" width="103" height="51" fill="#FAD155"/>
<rect x="356" y="1165" width="102" height="51" fill="#F2A72E"/>
<rect x="458" y="1165" width="103" height="51" fill="#AD5313"/>
<rect x="561" y="1165" width="102" height="51" fill="#6B0000"/>
<rect x="151" y="1282" width="79" height="39.7" fill="#894444"/>
<rect x="151" y="1336" width="79" height="38.8" fill="#CD8966"/>
<rect x="151" y="1389" width="79" height="39.8" fill="#E1E1E1"/>
<rect x="1324.6" y="1456.6" width="262.2" height="15.8" fill="#000"/>
<rect x="1456.5" y="1460.8" width="126.5" height="7.9" fill="#fff"/>
<rect x="1324.6" y="1442.7" width="3.2" height="20" fill="#000"/>
<rect x="1453" y="1442.7" width="3.5" height="20" fill="#000"/>
<rect x="1582.6" y="1442.7" width="4.2" height="20" fill="#000"/>
</svg>
<div class="t" id="title">Vulnérabilité au changement climatique - Bilan hydrique des sols en fin d'été</div>
<div class="t" id="lt">Degré de vulnérabilité</div>
<div class="t li" style="top:1287.9px">Vulnérabilité élevée (4 ou 5) pour plus de la moitié des projections</div>
<div class="t li" style="top:1341.4px">Vulnérabilité moyenne à élevée (3, 4 ou 5) pour plus de la moitié des projections</div>
<div class="t li" style="top:1394.9px">Secteurs nécessitant des actions d'adaptation génériques et flexibles</div>
<div class="t" id="foot">©Agence de l’eau Loire-Bretagne – Août 2016; ©IGN, BD CARTO</div>
<div class="t sc" style="left:1318.8px;top:1412.1px">0</div>
<div class="t sc" style="left:1440px;top:1412.1px">50</div>
<div class="t sc" style="left:1564.3px;top:1412.1px">100</div>
<div class="t sc" style="left:1592.4px;top:1450.5px;font-size:24px;letter-spacing:0.47px">Kilometers</div>
<div class="t" id="north">N</div>
</body></html>
